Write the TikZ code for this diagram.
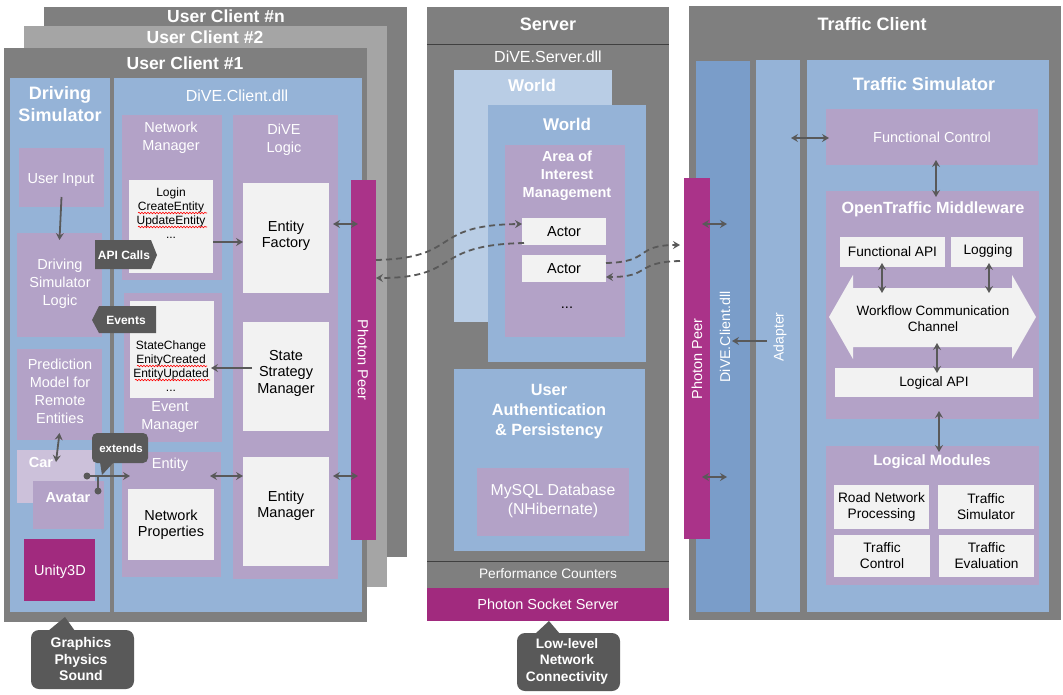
\documentclass[tikz,border=0pt]{standalone}
\usepackage{fontspec}
\setmainfont{Liberation Sans}
\usetikzlibrary{arrows.meta,fit,decorations.pathmorphing}
\definecolor{frame}{HTML}{7F7F7F}
\definecolor{frameL}{HTML}{A5A5A5}
\definecolor{blu}{HTML}{95B3D7}
\definecolor{bluL}{HTML}{B9CDE5}
\definecolor{bluD}{HTML}{7A9DC9}
\definecolor{lav}{HTML}{B3A2C7}
\definecolor{lavL}{HTML}{CCC1DA}
\definecolor{wbox}{HTML}{F2F2F2}
\definecolor{mag}{HTML}{AA3389}
\definecolor{magD}{HTML}{A12A7E}
\definecolor{dk}{HTML}{595959}
\definecolor{sepc}{HTML}{404040}
\newcommand{\fz}[2]{\fontsize{#1}{#2}\selectfont}
\newcommand{\bx}[6]{\node[bxs,fill=#2,fit={(#3,#4) (#5,#6)}] (#1) {};}
\begin{document}
\begin{tikzpicture}[x=1pt,y=-1pt,
  bxs/.style={rectangle,inner sep=0pt,outer sep=0pt,draw=none},
  tx/.style={inner sep=0pt,outer sep=0pt,align=center},
  wt/.style={tx,text=white,font=\fz{14.5}{18}},
  wtb/.style={tx,text=white,font=\bfseries\fz{14.5}{18}},
  bk/.style={tx,text=black,font=\fz{14.5}{16}},
  ttl/.style={tx,text=white,font=\bfseries\fz{18}{22}},
  >={Stealth[length=7pt,width=8pt,inset=2.5pt]},
  arr/.style={draw=dk,line width=1.8pt,->},
  arr2/.style={draw=dk,line width=1.8pt,<->},
  dsh/.style={draw=dk,line width=1.8pt,dash pattern=on 6pt off 4pt,->},
  sq/.style={draw=red,line width=0.6pt,decorate,decoration={snake,amplitude=0.8pt,segment length=3pt}}
]
\fill[white] (0,0) rectangle (1063,694);
\useasboundingbox (0,0) rectangle (1063,694);

% ---------------- User clients ----------------
\bx{ucn}{frame}{44}{7}{407}{557}
\bx{uc2}{frameL}{24}{26}{387}{587}
\bx{uc1}{frame}{4}{48}{367}{622}
\node[tx,text=white,font=\bfseries\fz{17.5}{20}] (tn) at (226,16) {User Client \#n};
\node[tx,text=white,font=\bfseries\fz{17.5}{20}] (t2) at (205,37) {User Client \#2};
\node[tx,text=white,font=\bfseries\fz{17.5}{20}] (t1) at (185,63) {User Client \#1};

\bx{ds}{blu}{10}{78}{110}{612}
\bx{dcl}{blu}{114}{78}{362}{612}
\node[ttl] (dst) at (60,104) {Driving\\Simulator};
\node[wt,font=\fz{16}{18}] (dclt) at (237,96) {DiVE.Client.dll};

\bx{ui}{lav}{19}{148}{104}{207}
\node[wt] (uit) at (61,180) {User Input};
\bx{dsl}{lav}{17}{233}{102}{337}
\node[wt] (dslt) at (60,284) {Driving\\Simulator\\Logic};
\bx{pm}{lav}{17}{349}{102}{440}
\node[wt] (pmt) at (60,391) {Prediction\\Model for\\Remote\\Entities};
\bx{car}{lavL}{17}{450}{95}{503}
\node[wtb] (cart) at (41,462) {Car};
\bx{av}{lav}{33}{481}{104}{529}
\node[wtb] (avt) at (68,498) {Avatar};
\bx{u3d}{magD}{24}{539}{95}{601}
\node[wt] (u3dt) at (60,572) {Unity3D};

% callout graphics
\node[bxs,fill=dk,rounded corners=8pt,fit={(31,630) (134,689)}] (gps) {};
\fill[dk] (48,631) -- (65,617) -- (75,631) -- cycle;
\node[tx,text=white,font=\bfseries\fz{14}{16.5}] (gpst) at (81,659) {Graphics\\Physics\\Sound};

% network manager
\bx{nm}{lav}{122}{115}{222}{280}
\node[wt] (nmt) at (171,138) {Network\\Manager};
\bx{nml}{wbox}{129}{180}{213}{273}
\node[bk,font=\fz{12}{14}] (nmlt) at (171,213) {Login\\CreateEntity\\UpdateEntity\\...};
\draw[sq] (138,213) -- (207,213);
\draw[sq] (138,227) -- (207,227);

% event manager
\bx{em}{lav}{124}{293}{222}{442}
\node[wt] (emt) at (170,417) {Event\\Manager};
\bx{eml}{wbox}{130}{301}{214}{398}
\node[bk,font=\fz{12}{14}] (emlt) at (171,366) {StateChange\\EnityCreated\\EntityUpdated\\...};
\draw[sq] (137,366) -- (207,366);
\draw[sq] (135,380) -- (210,380);

% entity
\bx{ent}{lav}{122}{452}{221}{577}
\node[wt] (entt) at (170,465) {Entity};
\bx{np}{wbox}{128}{489}{214}{560}
\node[bk] (npt) at (np.center) {Network\\Properties};

% DiVE logic
\bx{dl}{lav}{233}{115}{338}{579}
\node[wt] (dlt) at (284,140) {DiVE\\Logic};
\bx{ef}{wbox}{243}{183}{329}{293}
\node[bk] (eft) at (286,236) {Entity\\Factory};
\bx{ssm}{wbox}{243}{322}{329}{431}
\node[bk,font=\fz{14.5}{16.5}] (ssmt) at (286,373) {State\\Strategy\\Manager};
\bx{entm}{wbox}{243}{457}{329}{566}
\node[bk] (entmt) at (286,506) {Entity\\Manager};

\bx{ppc}{mag}{351}{180}{376}{540}
\node[wt,rotate=-90] (ppct) at (363,360) {Photon Peer};

% API calls / Events callouts
\fill[dk] (95,240) -- (151,240) -- (157,255) -- (151,269) -- (95,269) -- cycle;
\node[tx,text=white,font=\bfseries\fz{12}{14}] (apit) at (124,255) {API Calls};
\fill[dk] (92,320) -- (99,306) -- (156,306) -- (156,333) -- (99,333) -- cycle;
\node[tx,text=white,font=\bfseries\fz{12}{14}] (evt) at (126,320) {Events};

% extends callout
\node[bxs,fill=dk,rounded corners=5pt,fit={(92,433) (148,463)}] (ext) {};
\fill[dk] (100,462) -- (102,475) -- (114,462) -- cycle;
\node[tx,text=white,font=\bfseries\fz{11.5}{13}] (extt) at (121,448) {extends};

% client connectors
\draw[arr] ([yshift=10pt]ui.south) -- ([yshift=-7pt]dsl.north);
\draw[arr2] ([yshift=7pt]pm.south) -- ([yshift=-12pt]car.north);
\draw[arr] (nml.east |- 0,242) -- (ef.west |- 0,242);
\draw[arr2,shorten <=4pt,shorten >=-7pt] (ef.east |- 0,224) -- (ppc.west |- 0,224);
\draw[arr,shorten <=-9pt,shorten >=-3pt] (ssm.west |- 0,368) -- (eml.east |- 0,368);
\draw[arr2,shorten <=-11pt] (ent.east |- 0,476) -- (entm.west |- 0,476);
\draw[arr2,shorten <=4pt,shorten >=-7pt] (entm.east |- 0,476) -- (ppc.west |- 0,476);
\coordinate (cdot) at (87,476);
\coordinate (adot) at (98,491);
\draw[arr,shorten >=-8pt] (cdot) -- (ent.west |- cdot);
\draw[draw=dk,line width=1.8pt] (adot) -- (adot |- cdot);
\fill[dk] (cdot) circle (3.5);
\fill[dk] (adot) circle (3.5);

% ---------------- Server ----------------
\bx{srv}{frame}{427}{7}{669}{588}
\draw[sepc,line width=1pt] (srv.west |- 0,44) -- (srv.east |- 0,44);
\node[ttl] (srvt) at (548,24) {Server};
\node[wt,font=\fz{16}{18}] (sdll) at (548,57) {DiVE.Server.dll};
\bx{w1}{bluL}{454}{70}{612}{322}
\node[tx,text=white,font=\bfseries\fz{17}{20}] (w1t) at (532,85) {World};
\bx{w2}{blu}{488}{105}{646}{362}
\node[tx,text=white,font=\bfseries\fz{17}{20}] (w2t) at (567,124) {World};
\bx{aoi}{lav}{505}{145}{625}{337}
\node[wtb,font=\bfseries\fz{14.5}{18}] (aoit) at (567,176) {Area of\\Interest\\Management};
\bx{a1}{wbox}{522}{218}{606}{245}
\node[bk] (a1t) at (a1.center) {Actor};
\bx{a2}{wbox}{522}{255}{606}{282}
\node[bk] (a2t) at (a2.center) {Actor};
\node[bk] (dots) at (567,308) {...};
\bx{uap}{blu}{454}{369}{645}{551}
\node[tx,text=white,font=\bfseries\fz{16.3}{20}] (uapt) at (549,412) {User\\Authentication\\\& Persistency};
\bx{sql}{lav}{477}{468}{629}{536}
\node[wt,font=\fz{15.8}{19}] (sqlt) at (553,501) {MySQL Database\\(NHibernate)};
\draw[sepc,line width=1pt] (srv.west |- 0,561) -- (srv.east |- 0,561);
\node[wt,font=\fz{13.7}{16}] (pct) at (548,574) {Performance Counters};
\bx{pss}{magD}{427}{588}{669}{621}
\node[wt] (psst) at (pss.center) {Photon Socket Server};
\node[bxs,fill=dk,rounded corners=8pt,fit={(517,633) (620,691)}] (llc) {};
\fill[dk] (535,634) -- (549,621) -- (560,634) -- cycle;
\node[tx,text=white,font=\bfseries\fz{13.7}{16.5}] (llct) at (567,661) {Low-level\\Network\\Connectivity};

% ---------------- Traffic client ----------------
\bx{tc}{frame}{689}{6}{1061}{620}
\node[ttl] (tct) at (872,24) {Traffic Client};
\bx{tdc}{bluD}{696}{61}{750}{612}
\bx{adp}{blu}{756}{60}{800}{612}
\bx{ts}{blu}{807}{60}{1049}{612}
\bx{ppt}{mag}{684}{178}{710}{539}
\node[wt,rotate=90] (pptt) at (697,359) {Photon Peer};
\node[wt,rotate=90,font=\fz{14.2}{16}] (tdct) at (725,337) {DiVE.Client.dll};
\node[wt,rotate=90,font=\fz{14}{16}] (adpt) at (780,337) {Adapter};
\node[ttl] (tst) at (924,84) {Traffic Simulator};
\bx{fc}{lav}{826}{109}{1038}{165}
\node[wt] (fct) at (fc.center) {Functional Control};
\bx{otm}{lav}{826}{191}{1039}{419}
\node[tx,text=white,font=\bfseries\fz{16.2}{18}] (otmt) at (933,209) {OpenTraffic Middleware};
\bx{fapi}{wbox}{840}{237}{945}{267}
\node[bk,font=\fz{13.7}{16}] (fapit) at (fapi.center) {Functional API};
\bx{logg}{wbox}{951}{237}{1023}{267}
\node[bk,font=\fz{13.7}{16}] (loggt) at (988,251) {Logging};
\fill[wbox] (829,317) -- (853,275) -- (853,288) -- (1012,288) -- (1012,275) -- (1036,317)
  -- (1012,359) -- (1012,347) -- (853,347) -- (853,359) -- cycle;
\coordinate (wtop) at (853,288);
\coordinate (wbot) at (853,347);
\node[bk,font=\fz{13.5}{16}] (wcc) at (933,319) {Workflow Communication\\Channel};
\bx{lapi}{wbox}{835}{368}{1033}{397}
\node[bk,font=\fz{13.7}{16}] (lapit) at (lapi.center) {Logical API};
\bx{lm}{lav}{826}{446}{1039}{585}
\node[tx,text=white,font=\bfseries\fz{15}{18}] (lmt) at (932,462) {Logical Modules};
\bx{rnp}{wbox}{834}{485}{929}{529}
\node[bk,font=\fz{13.7}{16}] (rnpt) at (rnp.center) {Road Network\\Processing};
\bx{tsm}{wbox}{938}{485}{1034}{529}
\node[bk,font=\fz{13.7}{16}] (tsmt) at (tsm.center) {Traffic\\Simulator};
\bx{tcl}{wbox}{834}{535}{930}{577}
\node[bk,font=\fz{13.7}{16}] (tclt) at (tcl.center) {Traffic\\Control};
\bx{tev}{wbox}{939}{535}{1034}{577}
\node[bk,font=\fz{13.7}{16}] (tevt) at (tev.center) {Traffic\\Evaluation};

% traffic connectors
\draw[arr2,shorten <=-8pt] (ppt.east |- 0,224) -- ++(17,0);
\draw[arr2,shorten <=-8pt] (ppt.east |- 0,477) -- ++(17,0);
\draw[arr,shorten <=-11pt,shorten >=-18pt] (adp.west |- 0,341) -- (tdc.east |- 0,341);
\draw[arr2,shorten <=-9pt,shorten >=-3pt] (adp.east |- 0,138) -- (fc.west |- 0,138);
\draw[arr2,shorten <=-5pt,shorten >=-6pt] (936,0 |- fc.south) -- (936,0 |- otm.north);
\draw[arr2,shorten <=-4pt,shorten >=-5pt] (882,0 |- fapi.south) -- (882,0 |- wtop);
\draw[arr2,shorten <=-4pt,shorten >=-5pt] (989,0 |- logg.south) -- (989,0 |- wtop);
\draw[arr2,shorten <=-4pt,shorten >=-5pt] (937,0 |- wbot) -- (937,0 |- lapi.north);
\draw[arr2,shorten <=-8pt,shorten >=-6pt] (939,0 |- otm.south) -- (939,0 |- lm.north);

% dashed network connectors
\draw[dsh] (ppc.east |- 0,260) .. controls (462,258) and (428,225) .. (a1.west |- 0,224);
\draw[dsh] ([xshift=2pt]a1.west |- 0,243) .. controls (430,245) and (462,278) .. (ppc.east |- 0,278);
\draw[dsh] (a2.east |- 0,263) .. controls (652,262) and (634,245) .. ([xshift=-4pt]ppt.west |- 0,245);
\draw[dsh] ([xshift=-4pt]ppt.west |- 0,261) .. controls (634,262) and (652,277) .. (a2.east |- 0,277);
\end{tikzpicture}
\end{document}
